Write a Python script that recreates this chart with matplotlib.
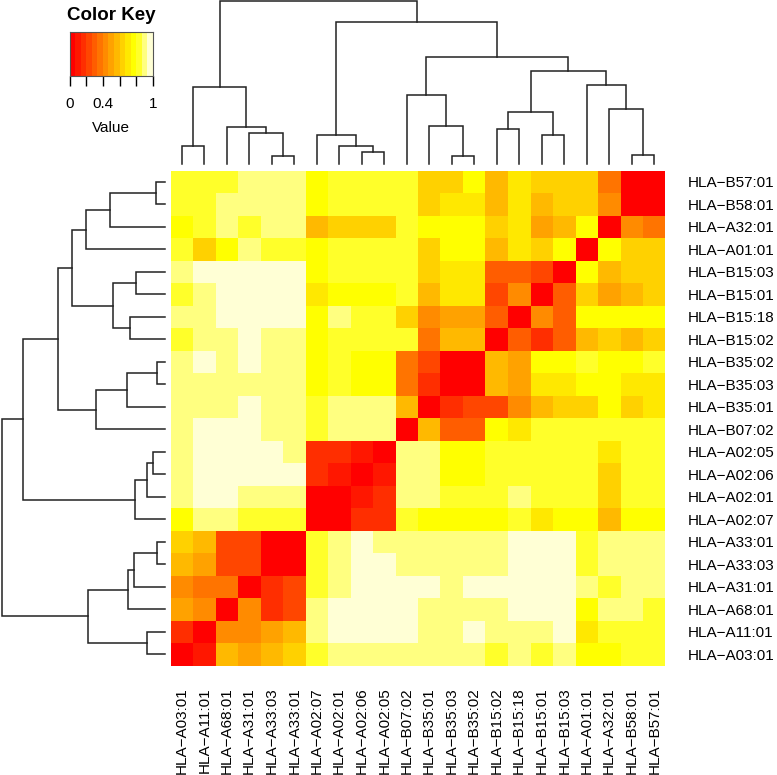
import colorsys
import numpy as np
import matplotlib
matplotlib.use('Agg')
import matplotlib.pyplot as plt
from matplotlib.colors import ListedColormap, BoundaryNorm

plt.rcParams['font.family'] = ['Liberation Sans', 'DejaVu Sans']

# column order (left to right); rows are the same alleles bottom to top
alleles = ['A03:01', 'A11:01', 'A68:01', 'A31:01', 'A33:03', 'A33:01',
           'A02:07', 'A02:01', 'A02:06', 'A02:05', 'B07:02', 'B35:01',
           'B35:03', 'B35:02', 'B15:02', 'B15:18', 'B15:01', 'B15:03',
           'A01:01', 'A32:01', 'B58:01', 'B57:01']
col_labels = ['HLA\u2212' + a for a in alleles]
row_labels = col_labels[::-1]

# heatmap values, rows top to bottom (B57:01 ... A03:01)
values = [
    [.83, .83, .83, .90, .90, .90, .77, .83, .83, .83, .83, .63, .63, .77, .57, .70, .63, .63, .63, .37, .03, 0],
    [.83, .83, .90, .90, .90, .90, .77, .83, .83, .83, .83, .63, .70, .70, .57, .70, .57, .63, .63, .43, 0, .03],
    [.77, .83, .90, .83, .90, .90, .57, .63, .63, .63, .83, .77, .77, .77, .63, .70, .50, .57, .77, 0, .43, .37],
    [.83, .63, .77, .90, .83, .83, .77, .83, .83, .83, .83, .63, .77, .77, .57, .70, .63, .77, 0, .77, .63, .63],
    [.90, .97, .97, .97, .97, .97, .77, .83, .83, .83, .83, .63, .70, .70, .30, .30, .23, 0, .77, .57, .63, .63],
    [.83, .90, .97, .97, .97, .97, .70, .77, .77, .77, .83, .57, .70, .70, .23, .43, 0, .30, .63, .50, .57, .63],
    [.90, .90, .97, .97, .97, .97, .77, .90, .83, .83, .63, .43, .50, .50, .30, 0, .43, .30, .77, .77, .77, .77],
    [.83, .90, .90, .97, .90, .90, .77, .83, .83, .83, .83, .37, .57, .57, 0, .30, .17, .30, .57, .63, .57, .63],
    [.90, .97, .90, .97, .90, .90, .77, .83, .77, .77, .37, .23, .03, 0, .57, .50, .77, .77, .83, .77, .77, .83],
    [.90, .90, .90, .90, .90, .90, .77, .83, .77, .77, .37, .17, 0, .03, .57, .50, .70, .70, .77, .77, .70, .70],
    [.90, .90, .90, .97, .90, .90, .83, .90, .90, .90, .57, 0, .17, .23, .23, .43, .57, .63, .63, .77, .63, .70],
    [.90, .97, .97, .97, .90, .90, .83, .90, .90, .90, 0, .57, .30, .30, .77, .70, .83, .83, .83, .83, .83, .83],
    [.90, .97, .97, .97, .97, .90, .17, .17, .10, 0, .90, .90, .77, .77, .83, .83, .83, .83, .83, .70, .83, .83],
    [.90, .97, .97, .97, .97, .97, .17, .10, 0, .10, .90, .90, .77, .77, .83, .83, .83, .83, .83, .63, .83, .83],
    [.90, .97, .97, .90, .90, .90, .03, 0, .10, .17, .90, .90, .83, .83, .83, .90, .83, .83, .83, .63, .83, .83],
    [.77, .90, .90, .83, .83, .83, 0, .03, .17, .17, .83, .77, .77, .77, .77, .83, .70, .77, .77, .57, .77, .77],
    [.63, .57, .23, .23, .03, 0, .83, .90, .97, .90, .90, .90, .90, .90, .90, .97, .97, .97, .83, .90, .90, .90],
    [.57, .50, .23, .23, 0, .03, .83, .90, .97, .97, .90, .90, .90, .90, .90, .97, .97, .97, .83, .90, .90, .90],
    [.43, .37, .37, 0, .17, .23, .83, .90, .97, .97, .97, .97, .90, .97, .97, .97, .97, .97, .90, .83, .90, .90],
    [.50, .43, 0, .43, .17, .23, .90, .97, .97, .97, .97, .90, .90, .90, .90, .97, .97, .97, .77, .90, .90, .83],
    [.17, 0, .43, .43, .50, .57, .90, .97, .97, .97, .97, .90, .90, .97, .90, .90, .90, .97, .70, .83, .83, .83],
    [0, .10, .57, .50, .57, .63, .83, .90, .90, .90, .90, .90, .90, .90, .83, .90, .83, .90, .77, .77, .83, .83],
]

# clustering tree (same for rows and columns): leaf ids = column index,
# new cluster ids start at 22, heights in dendrogram units
merges = [
    (4, 5, 8), (12, 13, 8), (20, 21, 9), (8, 9, 12), (0, 1, 18),
    (7, 25, 18), (3, 22, 31), (16, 17, 29), (6, 27, 29.5), (14, 15, 35),
    (2, 28, 37), (11, 23, 38), (31, 29, 52), (19, 24, 55), (10, 33, 69),
    (26, 32, 77), (18, 35, 79), (34, 38, 93), (36, 39, 107), (30, 40, 142),
    (37, 41, 163),
]


def heat_colors(n):
    j = n // 4
    i = n - j
    cols = [colorsys.hsv_to_rgb(h, 1, 1) for h in np.linspace(0, 1 / 6, i)]
    if j > 0:
        for s in np.linspace(1 - 1 / (2 * j), 1 / (2 * j), j):
            cols.append(colorsys.hsv_to_rgb(1 / 6, s, 1))
    return cols


breaks = np.linspace(0, 1, 16)
cmap = ListedColormap(heat_colors(15))
norm = BoundaryNorm(breaks, cmap.N)


def dendro_segments(merges, n):
    pos = {i: (i + 0.5, 0.0) for i in range(n)}
    segs = []
    for k, (a, b, h) in enumerate(merges):
        xa, ha = pos[a]
        xb, hb = pos[b]
        segs.append(([xa, xa, xb, xb], [ha, h, h, hb]))
        pos[n + k] = ((xa + xb) / 2, h)
    return segs


W, H = 777, 775
fig = plt.figure(figsize=(W / 100, H / 100), dpi=100)


def px_axes(x0, y0, x1, y1):
    return fig.add_axes([x0 / W, 1 - y1 / H, (x1 - x0) / W, (y1 - y0) / H])


n = len(alleles)
top = 163

# heatmap
ax = px_axes(170.5, 170.5, 665.5, 665.5)
ax.pcolormesh(np.arange(n + 1), np.arange(n + 1), np.array(values), cmap=cmap, norm=norm)
ax.set_xlim(0, n)
ax.set_ylim(n, 0)
for s in ax.spines.values():
    s.set_visible(False)
ax.set_xticks(np.arange(n) + 0.5)
ax.set_xticklabels(col_labels, rotation=90, fontsize=11)
ax.set_yticks(np.arange(n) + 0.5)
ax.set_yticklabels(row_labels, fontsize=11)
ax.yaxis.tick_right()
ax.tick_params(length=0)
ax.tick_params(axis='x', pad=16)
ax.tick_params(axis='y', pad=16)

segs = dendro_segments(merges, n)

# column dendrogram
axt = px_axes(170.5, 1, 665.5, 164)
for xs, hs in segs:
    axt.plot(xs, hs, color='#222222', lw=1.1, solid_joinstyle='miter', clip_on=False)
axt.set_xlim(0, n)
axt.set_ylim(0, top)
axt.axis('off')

# row dendrogram (rows are the columns reversed)
axl = px_axes(1.5, 170.5, 165, 665.5)
for xs, hs in segs:
    axl.plot(hs, [n - x for x in xs], color='#222222', lw=1.1, solid_joinstyle='miter', clip_on=False)
axl.set_ylim(n, 0)
axl.set_xlim(top, 0)
axl.axis('off')

# color key
axk = px_axes(69.5, 32, 153, 76)
axk.pcolormesh(breaks, [0, 1], [(breaks[:-1] + breaks[1:]) / 2], cmap=cmap, norm=norm)
axk.set_xlim(0, 1)
axk.set_ylim(0, 1)
axk.set_yticks([])
axk.set_xticks(np.linspace(0, 1, 6))
axk.set_xticklabels(['0', '', '0.4', '', '', '1'], fontsize=11)
axk.tick_params(axis='x', length=7, width=1, pad=8)
for s in axk.spines.values():
    s.set_linewidth(0.8)
    s.set_color('#555555')
fig.text(111 / W, 1 - 15 / H, 'Color Key', ha='center', va='center', fontsize=13.5, fontweight='bold')
fig.text(111 / W, 1 - 128 / H, 'Value', ha='center', va='center', fontsize=11)

fig.savefig('out.png', dpi=100)
